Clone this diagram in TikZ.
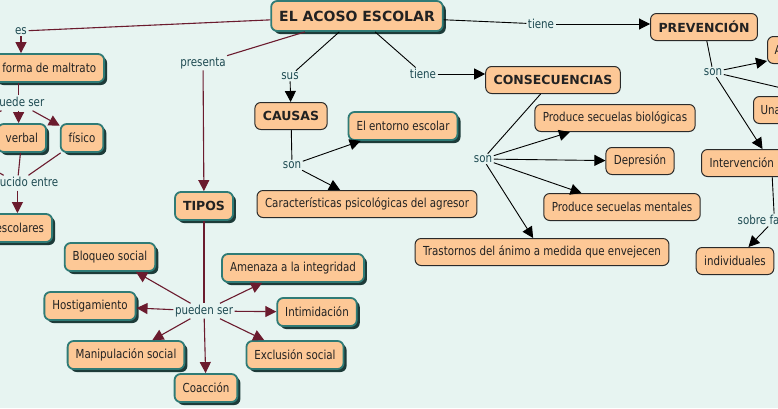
\documentclass[tikz,border=0pt]{standalone}
\usepackage{fontspec}
\setmainfont{DejaVu Sans}[FakeStretch=0.83]
\newfontfamily\hfont{DejaVu Sans}
\usetikzlibrary{arrows.meta,shadows}
\definecolor{bgc}{HTML}{E7F4F1}
\definecolor{peach}{HTML}{FDC896}
\definecolor{tealb}{HTML}{2F7B76}
\definecolor{shadowc}{HTML}{1D3B39}
\definecolor{darkb}{HTML}{2A2A2A}
\definecolor{maroon}{HTML}{6B1B2E}
\definecolor{labc}{HTML}{1E4A52}
\definecolor{txt}{HTML}{222222}
\tikzset{
  every node/.style={font=\fontsize{12.4}{14}\selectfont},
  tbox/.style={draw=tealb, line width=1.8pt, fill=peach, rounded corners=6pt,
    minimum height=28pt, inner xsep=8pt, inner ysep=2pt, text=txt,
    drop shadow={shadow xshift=3pt, shadow yshift=-3pt, fill=shadowc, opacity=1}},
  dbox/.style={draw=darkb, line width=1pt, fill=peach, rounded corners=6pt,
    minimum height=27pt, inner xsep=8pt, inner ysep=2pt, text=txt},
  head/.style={font=\hfont\bfseries\fontsize{12.5}{14}\selectfont},
  lab/.style={text=labc, inner sep=1.5pt},
  mline/.style={draw=maroon, line width=1.1pt},
  marr/.style={mline, -{Triangle[length=11pt,width=11pt]}},
  bline/.style={draw=black, line width=0.9pt},
  barr/.style={bline, -{Triangle[length=11pt,width=11pt]}},
}
\begin{document}
\begin{tikzpicture}[x=1pt,y=-1pt]
\clip (0,0) rectangle (778,408);
\fill[bgc] (0,0) rectangle (778,408);

% ---- nodes ----
\node[tbox, minimum height=30pt, font=\hfont\bfseries\fontsize{14}{16}\selectfont] (title) at (357,16) {EL ACOSO ESCOLAR};
\node[dbox, head] (prev) at (704,27) {PREVENCIÓN};
\node[dbox, head] (cons) at (553,80) {CONSECUENCIAS};
\node[dbox, head] (causas) at (291,116) {CAUSAS};
\node[tbox, head] (tipos) at (204,206) {TIPOS};

\node[tbox, anchor=east] (forma) at (105,68) {forma de maltrato};
\node[tbox, anchor=east] (verbal) at (47,138) {verbal};
\node[tbox] (fisico) at (82,138) {físico};
\node[tbox, anchor=east] (escol) at (53,228) {escolares};

\node[tbox] (bloq) at (110,257) {Bloqueo social};
\node[tbox] (host) at (90,306) {Hostigamiento};
\node[tbox] (manip) at (126,355) {Manipulación social};
\node[tbox] (coac) at (206,388) {Coacción};
\node[tbox] (excl) at (295,355) {Exclusión social};
\node[tbox] (intim) at (317,312) {Intimidación};
\node[tbox] (amen) at (293,268) {Amenaza a la integridad};

\node[tbox] (entorno) at (403,126) {El entorno escolar};
\node[dbox] (carac) at (367,204) {Características psicológicas del agresor};

\node[dbox] (biol) at (615,118) {Produce secuelas biológicas};
\node[dbox] (depr) at (640,161) {Depresión};
\node[dbox] (ment) at (622,207) {Produce secuelas mentales};
\node[dbox] (trast) at (542,252) {Trastornos del ánimo a medida que envejecen};

\node[dbox, anchor=west, text width=50pt, align=left, inner xsep=7pt] (anode) at (767,50) {A};
\node[dbox, anchor=west, text width=50pt, align=left, inner xsep=7pt] (una) at (753,110) {Una};
\node[dbox, anchor=west, text width=124pt, align=left] (interv) at (701,163) {Intervención};
\node[dbox] (indiv) at (735,261) {individuales};

% ---- linking labels ----
\node[lab] (es) at (21,31) {es};
\node[lab] (presenta) at (203,63) {presenta};
\node[lab] (sus) at (290,76) {sus};
\node[lab] (tiene1) at (423,74) {tiene};
\node[lab] (tiene2) at (541,24) {tiene};
\node[lab, anchor=east] (puede) at (46,103) {puede ser};
\node[lab, anchor=east] (produc) at (60,183) {producido entre};
\node[lab] (pueden) at (204,311) {pueden ser};
\node[lab] (son1) at (292,165) {son};
\node[lab] (son2) at (483,159) {son};
\node[lab] (son3) at (713,72) {son};
\node[lab, anchor=west] (sobre) at (736,220) {sobre factores};

\coordinate (off1) at (-30,125);
\coordinate (off2) at (-20,162);
\coordinate (off3) at (820,97);

% ---- maroon connectors ----
\draw[mline] (title) -- (es);
\draw[marr] (es) -- (es |- forma.north);
\draw[mline] (forma.south -| puede) -- (puede);
\draw[marr] (puede) -- (puede |- verbal.north);
\draw[marr] (puede) -- (fisico);
\draw[marr] (puede) -- (off1);
\draw[mline] (verbal) -- (produc);
\draw[mline] (fisico) -- (produc);
\draw[mline] (off2) -- (produc);
\draw[marr] (produc) -- (produc |- escol.north);
\draw[mline] (title) -- (presenta);
\draw[marr] (presenta) -- (tipos);
\draw[mline] (tipos) -- (pueden);
\foreach \t in {bloq,host,manip,coac,excl,intim,amen}
  \draw[marr] (pueden) -- (\t);

% ---- black connectors ----
\draw[bline] (title) -- (sus);
\draw[barr] (sus) -- (causas);
\draw[bline] (title) -- (tiene1);
\draw[barr] (tiene1.east) -- (tiene1.east -| cons.west);
\draw[bline] (title) -- (tiene2);
\draw[barr] (tiene2.east) -- (tiene2.east -| prev.west);
\draw[bline] (causas) -- (son1);
\draw[barr] (son1) -- (entorno);
\draw[barr] (son1) -- (carac);
\draw[bline] (cons) -- (son2);
\foreach \t in {biol,depr,ment,trast}
  \draw[barr] (son2) -- (\t);
\draw[bline] (prev) -- (son3);
\draw[barr] (son3) -- ([yshift=3pt]anode.south west);
\draw[barr] (son3) -- (off3);
\draw[barr] (son3) -- (interv);
\draw[bline] (interv) -- (sobre);
\draw[barr] (sobre) -- (indiv);
\end{tikzpicture}
\end{document}
